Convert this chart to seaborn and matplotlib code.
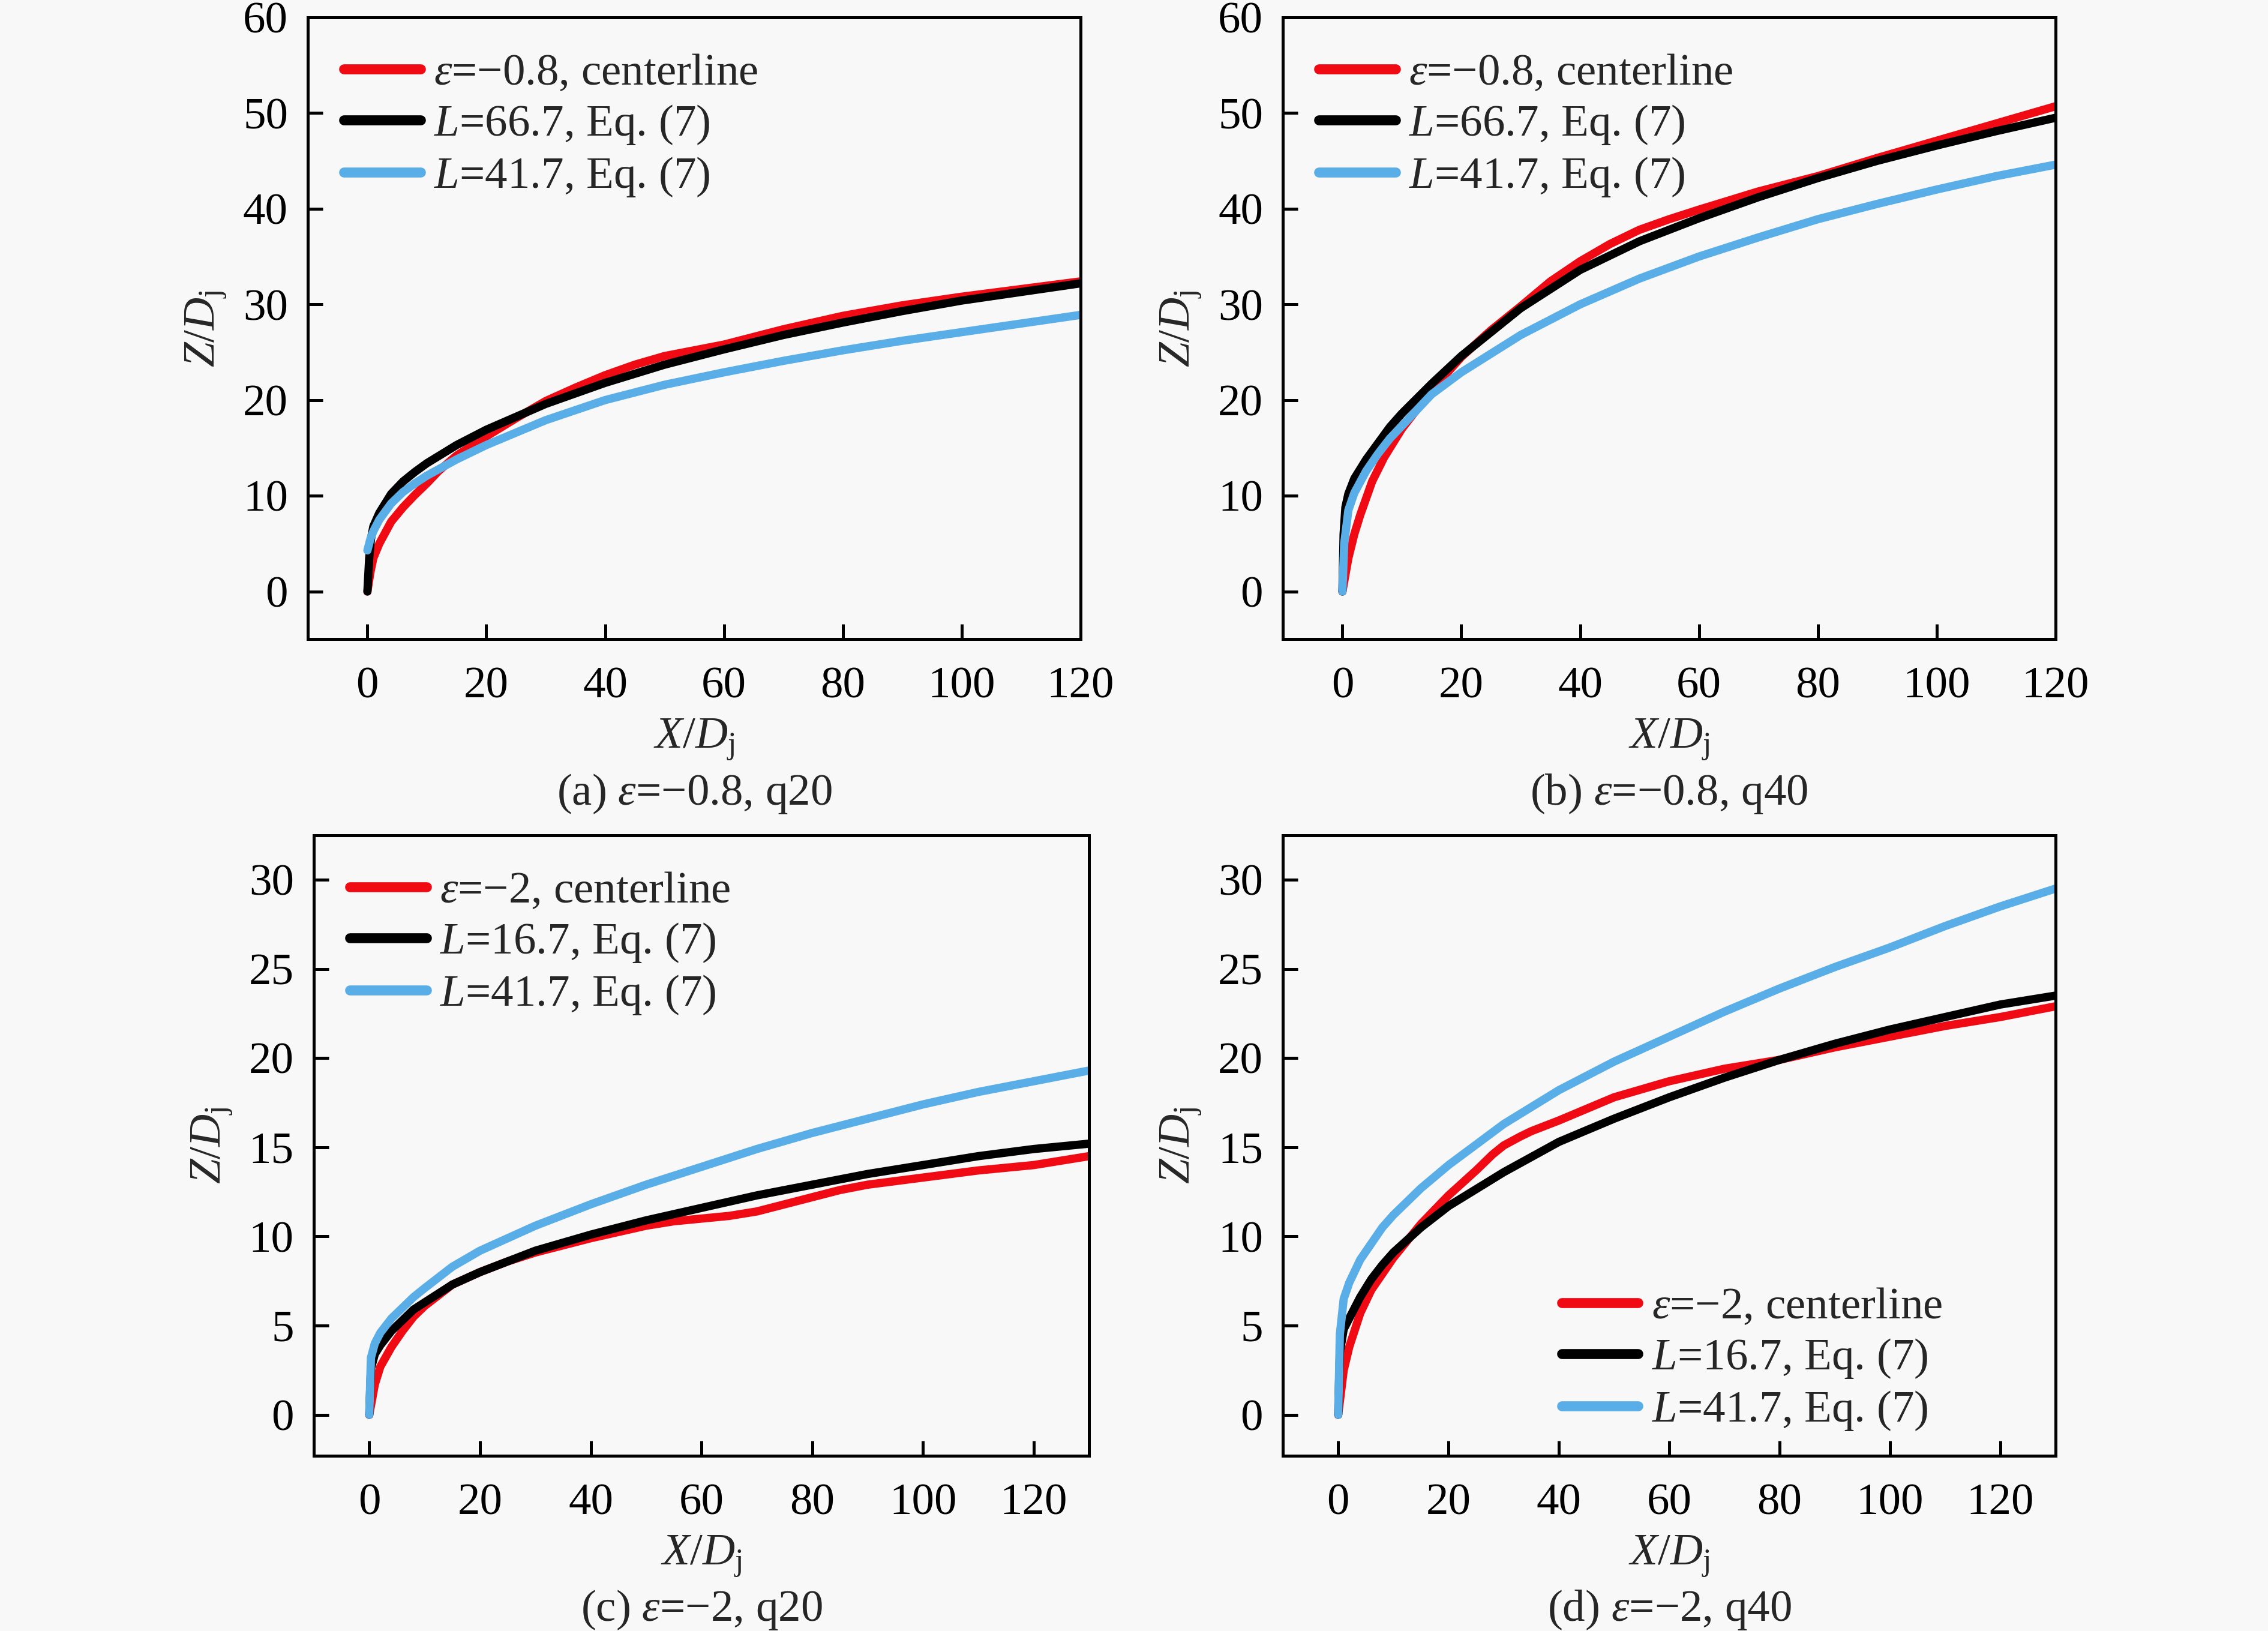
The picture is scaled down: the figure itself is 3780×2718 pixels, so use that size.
import matplotlib
matplotlib.use("Agg")
import matplotlib.pyplot as plt
import numpy as np
import seaborn as sns

# Panel (a): eps=-0.8, q20
xa_red = [0, 0.5, 1, 2, 4, 6, 8, 10, 12, 15, 20, 25, 30, 35, 40, 45, 50, 55, 60, 70, 80, 90, 100, 110, 120]
ya_red = [0, 2, 3.5, 5, 7.3, 8.8, 10.1, 11.3, 12.6, 14.2, 16.2, 18.1, 19.9, 21.3, 22.6, 23.7, 24.6, 25.2, 25.8, 27.4, 28.8, 29.9, 30.8, 31.6, 32.4]
xa_blk = [0, 0.3, 0.6, 1, 2, 4, 6, 8, 10, 15, 20, 30, 40, 50, 60, 70, 80, 90, 100, 110, 120]
ya_blk = [0, 3.5, 5.5, 6.8, 8.2, 10.2, 11.5, 12.5, 13.4, 15.3, 16.9, 19.6, 21.8, 23.7, 25.3, 26.8, 28.1, 29.3, 30.4, 31.3, 32.2]
xa_blu = [0, 0.5, 1, 2, 4, 6, 8, 10, 15, 20, 30, 40, 50, 60, 70, 80, 90, 100, 110, 120]
ya_blu = [4.3, 5.5, 6.3, 7.5, 9.2, 10.4, 11.3, 12.1, 13.8, 15.3, 17.9, 20.0, 21.6, 22.9, 24.1, 25.2, 26.2, 27.1, 28.0, 28.9]

# Panel (b): eps=-0.8, q40
xb_red = [0, 1, 2, 3, 5, 7, 10, 12, 15, 20, 25, 30, 35, 40, 45, 50, 55, 60, 70, 80, 90, 100, 110, 120]
yb_red = [0, 3.5, 6, 8, 11.5, 14, 17, 18.6, 21, 24.5, 27.3, 29.8, 32.4, 34.5, 36.3, 37.8, 38.9, 39.9, 41.8, 43.4, 45.3, 47.1, 48.9, 50.7]
xb_blk = [0, 0.2, 0.5, 1, 2, 4, 6, 8, 10, 15, 20, 30, 40, 50, 60, 70, 80, 90, 100, 110, 120]
yb_blk = [0, 6, 8.8, 10.2, 11.8, 13.8, 15.5, 17.2, 18.6, 21.7, 24.6, 29.6, 33.6, 36.6, 39.0, 41.2, 43.2, 45.0, 46.6, 48.1, 49.5]
xb_blu = [0, 0.3, 1, 2, 4, 6, 8, 10, 15, 20, 30, 40, 50, 60, 70, 80, 90, 100, 110, 120]
yb_blu = [0, 5, 8.5, 10.3, 12.6, 14.4, 16.0, 17.3, 20.6, 22.9, 26.8, 30.0, 32.7, 35.0, 37.0, 38.9, 40.5, 42.0, 43.4, 44.6]

# Panel (c): eps=-2, q20
xc_red = [0, 1, 2, 4, 6, 8, 10, 15, 20, 25, 30, 40, 50, 55, 60, 65, 70, 75, 80, 85, 90, 95, 100, 110, 120, 130]
yc_red = [0, 1.7, 2.7, 3.8, 4.7, 5.5, 6.1, 7.3, 8.0, 8.6, 9.1, 9.9, 10.6, 10.85, 11.0, 11.15, 11.4, 11.8, 12.2, 12.6, 12.9, 13.1, 13.3, 13.7, 14.0, 14.5]
xc_blk = [0, 0.3, 1, 2, 4, 6, 8, 10, 15, 20, 30, 40, 50, 60, 70, 80, 90, 100, 110, 120, 130]
yc_blk = [0, 2.6, 3.4, 3.9, 4.7, 5.3, 5.9, 6.3, 7.3, 8.0, 9.2, 10.1, 10.9, 11.6, 12.3, 12.9, 13.5, 14.0, 14.5, 14.9, 15.2]
xc_blu = [0, 0.3, 1, 2, 4, 6, 8, 10, 15, 20, 30, 40, 50, 60, 70, 80, 90, 100, 110, 120, 130]
yc_blu = [0, 3.2, 4.0, 4.6, 5.4, 6.0, 6.6, 7.1, 8.3, 9.2, 10.6, 11.8, 12.9, 13.9, 14.9, 15.8, 16.6, 17.4, 18.1, 18.7, 19.3]

# Panel (d): eps=-2, q40
xd_red = [0, 1, 2, 4, 6, 8, 10, 15, 20, 25, 28, 30, 33, 35, 40, 50, 60, 70, 80, 90, 100, 110, 120, 130]
yd_red = [0, 2.5, 3.8, 5.7, 7.0, 7.9, 8.8, 10.7, 12.3, 13.7, 14.6, 15.1, 15.6, 15.9, 16.5, 17.8, 18.7, 19.4, 19.9, 20.6, 21.2, 21.8, 22.3, 22.9]
xd_blk = [0, 0.3, 1, 2, 4, 6, 8, 10, 15, 20, 30, 40, 50, 60, 70, 80, 90, 100, 110, 120, 130]
yd_blk = [0, 3.5, 4.8, 5.4, 6.6, 7.6, 8.4, 9.1, 10.5, 11.7, 13.6, 15.3, 16.6, 17.8, 18.9, 19.9, 20.8, 21.6, 22.3, 23.0, 23.5]
xd_blu = [0, 0.3, 1, 2, 4, 6, 8, 10, 15, 20, 30, 40, 50, 60, 70, 80, 90, 100, 110, 120, 130]
yd_blu = [0, 4.5, 6.5, 7.4, 8.7, 9.6, 10.5, 11.2, 12.7, 14.0, 16.3, 18.2, 19.8, 21.2, 22.6, 23.9, 25.1, 26.2, 27.4, 28.5, 29.5]

labels_a = [r'$\mathit{ε}$=−0.8, centerline', r'$\mathit{L}$=66.7, Eq. (7)', r'$\mathit{L}$=41.7, Eq. (7)']
labels_c = [r'$\mathit{ε}$=−2, centerline', r'$\mathit{L}$=16.7, Eq. (7)', r'$\mathit{L}$=41.7, Eq. (7)']
captions = [r'(a) $\mathit{ε}$=−0.8, q20', r'(b) $\mathit{ε}$=−0.8, q40',
            r'(c) $\mathit{ε}$=−2, q20', r'(d) $\mathit{ε}$=−2, q40']

colors = ['#f00a14', '#000000', '#5aaee8']
bg = '#f8f8f8'

sns.set_theme(style="ticks")
plt.rcParams['font.family'] = ['Liberation Serif', 'DejaVu Serif']
plt.rcParams['mathtext.fontset'] = 'custom'
plt.rcParams['mathtext.rm'] = 'Liberation Serif'
plt.rcParams['mathtext.it'] = 'Liberation Serif:italic'
plt.rcParams['axes.unicode_minus'] = True

fig = plt.figure(figsize=(12.6, 9.06), dpi=300, facecolor=bg)

boxes = [
    [0.1358, 0.6080, 0.3406, 0.3814],
    [0.5657, 0.6080, 0.3406, 0.3814],
    [0.1384, 0.1074, 0.3418, 0.3806],
    [0.5657, 0.1074, 0.3406, 0.3806],
]
panels = [
    (xa_red, ya_red, xa_blk, ya_blk, xa_blu, ya_blu),
    (xb_red, yb_red, xb_blk, yb_blk, xb_blu, yb_blu),
    (xc_red, yc_red, xc_blk, yc_blk, xc_blu, yc_blu),
    (xd_red, yd_red, xd_blk, yd_blk, xd_blu, yd_blu),
]

fs = 18
for i, (box, pdata) in enumerate(zip(boxes, panels)):
    ax = fig.add_axes(box)
    ax.set_facecolor(bg)
    labels = labels_a if i < 2 else labels_c
    for k in range(3):
        sns.lineplot(x=pdata[2 * k], y=pdata[2 * k + 1], ax=ax, color=colors[k],
                     lw=3.3, label=labels[k], sort=False, estimator=None,
                     solid_capstyle='round', solid_joinstyle='round')
    if i < 2:
        ax.set_xlim(-10, 120)
        ax.set_ylim(-5, 60)
        ax.set_xticks(np.arange(0, 121, 20))
        ax.set_yticks(np.arange(0, 61, 10))
    else:
        ax.set_xlim(-10, 130)
        ax.set_ylim(-2.3, 32.5)
        ax.set_xticks(np.arange(0, 121, 20))
        ax.set_yticks(np.arange(0, 31, 5))
    for s in ax.spines.values():
        s.set_linewidth(1.2)
        s.set_color('black')
    ax.tick_params(direction='in', length=6, width=1.2, labelsize=fs,
                   top=False, right=False, colors='black')
    ax.tick_params(axis='x', pad=11)
    ax.tick_params(axis='y', pad=8)
    ax.set_xlabel(r'$\mathit{X}$/$\mathit{D}_\mathrm{j}$', fontsize=fs, labelpad=4)
    ax.set_ylabel(r'$\mathit{Z}$/$\mathit{D}_\mathrm{j}$', fontsize=fs, labelpad=6)
    if i < 3:
        leg = ax.legend(loc='upper left', bbox_to_anchor=(0.0, 1.0), frameon=False,
                        fontsize=fs, handlelength=1.7, handletextpad=0.3,
                        labelspacing=0.2, borderaxespad=0.4)
    else:
        leg = ax.legend(loc='lower right', bbox_to_anchor=(0.9, -0.02), frameon=False,
                        fontsize=fs, handlelength=1.7, handletextpad=0.3,
                        labelspacing=0.2, borderaxespad=0.4)
    for h in leg.get_lines():
        h.set_linewidth(4)
    ax.text(0.5, -0.248, captions[i], transform=ax.transAxes, ha='center',
            va='center', fontsize=fs)

fig.savefig('out.png', dpi=300, facecolor=bg)
